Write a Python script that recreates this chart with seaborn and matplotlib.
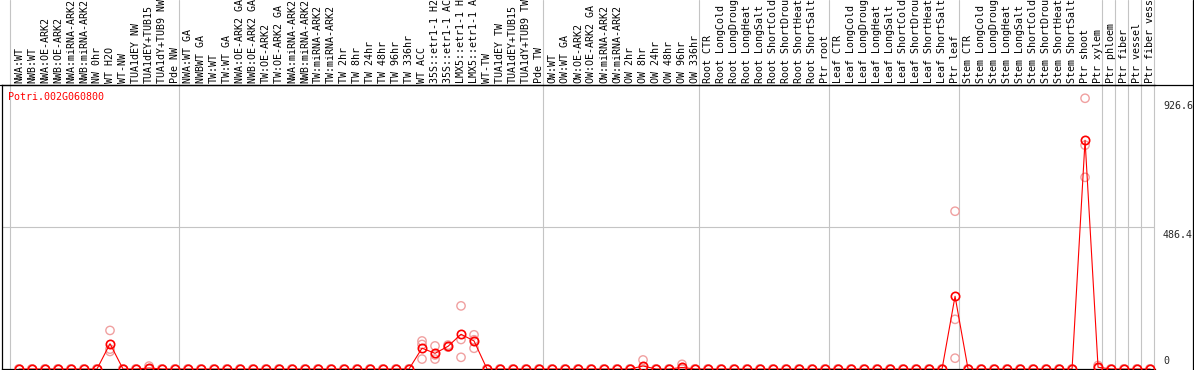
import numpy as np
import pandas as pd
import matplotlib
matplotlib.use("Agg")
import matplotlib.pyplot as plt
import matplotlib.transforms as mtransforms
from matplotlib.lines import Line2D
import seaborn as sns

# Data
gene = "Potri.002G060800"

samples = [
    # NW block
    "NWA:WT", "NWB:WT", "NWA:OE-ARK2", "NWB:OE-ARK2", "NWA:miRNA-ARK2", "NWB:miRNA-ARK2",
    "NW 0hr", "WT H2O", "WT-NW", "TUA1dEY NW", "TUA1dEY+TUB15", "TUA1dY+TUB9 NW", "Pde NW",
    # TW block
    "NWA:WT GA", "NWBWT GA", "TW:WT", "TW:WT GA", "NWA:OE-ARK2 GA", "NWB:OE-ARK2 GA",
    "TW:OE-ARK2", "TW:OE-ARK2 GA", "NWA:miRNA-ARK2", "NWB:miRNA-ARK2", "TW:miRNA-ARK2",
    "TW:miRNA-ARK2", "TW 2hr", "TW 8hr", "TW 24hr", "TW 48hr", "TW 96hr", "TW 336hr",
    "WT ACC", "35S::etr1-1 H2", "35S::etr1-1 AC", "LMX5::etr1-1 H", "LMX5::etr1-1 A",
    "WT-TW", "TUA1dEY TW", "TUA1dEY+TUB15", "TUA1dY+TUB9 TW", "Pde TW",
    # OW block
    "OW:WT", "OW:WT GA", "OW:OE-ARK2", "OW:OE-ARK2 GA", "OW:miRNA-ARK2", "OW:miRNA-ARK2",
    "OW 2hr", "OW 8hr", "OW 24hr", "OW 48hr", "OW 96hr", "OW 336hr",
    # root / leaf / stem
    "Root CTR", "Root LongCold", "Root LongDroug", "Root LongHeat", "Root LongSalt",
    "Root ShortCold", "Root ShortDrou", "Root ShortHeat", "Root ShortSalt", "Ptr root",
    "Leaf CTR", "Leaf LongCold", "Leaf LongDroug", "Leaf LongHeat", "Leaf LongSalt",
    "Leaf ShortCold", "Leaf ShortDrou", "Leaf ShortHeat", "Leaf ShortSalt", "Ptr leaf",
    "Stem CTR", "Stem LongCold", "Stem LongDroug", "Stem LongHeat", "Stem LongSalt",
    "Stem ShortCold", "Stem ShortDrou", "Stem ShortHeat", "Stem ShortSalt", "Ptr shoot",
    "Ptr xylem", "Ptr phloem", "Ptr fiber", "Ptr vessel", "Ptr fiber vess",
]

# first sample of each group (separator lines), last entry = end
group_starts = [0, 13, 41, 53, 63, 73, 84, 85, 86, 87, 88]

# replicates for the samples that are not zero (position in samples list)
rep_index = [7, 10, 31, 32, 33, 34, 35, 48, 51, 72, 82, 83]
rep_a = [132, 10, 96, 79, 82, 216, 117, 31, 16, 540, 926.6, 12]
rep_b = [68, 0, 84, 48, 75, 101, 71, 0, 0, 170, 766, 4]
rep_c = [60, 0, 34, 34, 76, 40, 100, 0, 0, 37, 656, 2]

ytick_values = [0, 486.4, 926.6]

# long table, 3 replicates per sample
reps = np.zeros((len(samples), 3))
for i, a, b, c in zip(rep_index, rep_a, rep_b, rep_c):
    reps[i] = [a, b, c]
df = pd.DataFrame({
    "pos": np.repeat(np.arange(len(samples)), 3),
    "value": reps.ravel(),
})

sns.set_theme(style="white")
plt.rcParams["font.family"] = ["DejaVu Sans Mono"]
fs = 7.2

W, H = 1194, 370
fig = plt.figure(figsize=(W / 100, H / 100), dpi=100)
ax = fig.add_axes([1.5 / W, 1 / H, 1153.5 / W, 284 / H])
ax.patch.set_alpha(0)

sns.scatterplot(data=df, x="pos", y="value", marker="o", s=36,
                facecolor="none", edgecolor="#f0a0a0", linewidth=1.0,
                ax=ax, zorder=3, legend=False)
sns.lineplot(data=df, x="pos", y="value", estimator="mean", errorbar=None,
             color="red", lw=0.8, marker="o", markersize=6,
             markerfacecolor="none", markeredgecolor="red", markeredgewidth=1.2,
             ax=ax, zorder=4)

ax.set_xlim(-1.346, 87.38)
ax.set_ylim(0, 972)
ax.set_xticks([])
ax.set_yticks([])
ax.set_xlabel("")
ax.set_ylabel("")
for side in ["left", "bottom", "top"]:
    ax.spines[side].set_color("black")
    ax.spines[side].set_linewidth(0.9)
ax.spines["right"].set_visible(False)

# group separators, running up through the label strip
for k in group_starts:
    ax.axvline(k - 0.69, ymin=0, ymax=369 / 284, clip_on=False,
               color="#c4c4c4", lw=0.8, zorder=0)
ax.axhline(ytick_values[1], color="#c4c4c4", lw=0.8, zorder=0)

# sample labels above the plot
lab_trans = mtransforms.blended_transform_factory(ax.transData, ax.transAxes)
for i, s in enumerate(samples):
    ax.text(i, 1 + 2 / 284, s, transform=lab_trans, rotation=90,
            ha="center", va="bottom", fontsize=fs, color="black", clip_on=False)

# value labels on the right
tick_trans = mtransforms.blended_transform_factory(ax.transAxes, ax.transData)
for v in ytick_values:
    txt = f"{v:g}"
    if v == 0:
        off = mtransforms.offset_copy(tick_trans, fig=fig, x=0, y=2.5, units="dots")
        ax.text(1.0069, v, txt, transform=off, va="bottom", ha="left",
                fontsize=fs, clip_on=False)
    else:
        off = mtransforms.offset_copy(tick_trans, fig=fig, x=0, y=-3, units="dots")
        ax.text(1.0069, v, txt, transform=off, va="top", ha="left",
                fontsize=fs, clip_on=False)

ax.text(0.0056, 0.958, gene, transform=ax.transAxes, color="red",
        fontsize=fs, va="center", ha="left")

# frame lines of the label strip
fig.add_artist(Line2D([0, 1], [1 - 85 / H, 1 - 85 / H], color="black", lw=0.9))
fig.add_artist(Line2D([1 - 0.6 / W, 1 - 0.6 / W], [0, 1], color="black", lw=0.9))

fig.savefig("out.png", dpi=100)
